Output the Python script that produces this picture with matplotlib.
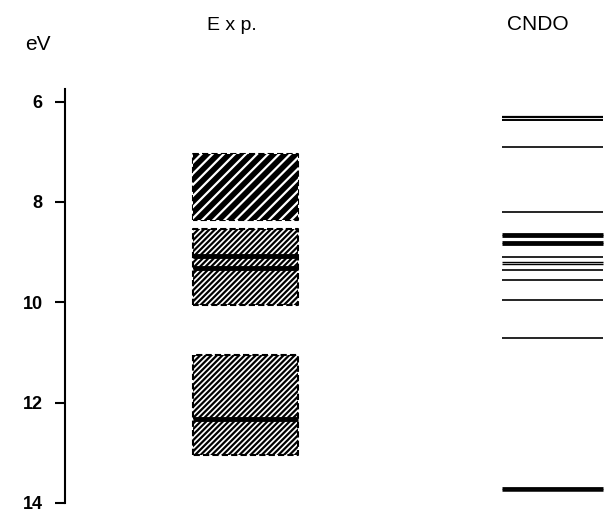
import matplotlib.pyplot as plt
import matplotlib as mpl

# experimental bands (eV): top, bottom
exp_top = [7.05, 8.53, 11.05]
exp_bottom = [8.37, 10.06, 13.05]
exp_dense = [True, False, False]
# dark lines seen inside the experimental bands
exp_lines = [9.08, 9.32, 12.32]

# CNDO levels (eV) and line widths
cndo_levels = [6.30, 6.36, 6.91, 8.20, 8.64, 8.68, 8.80, 8.83, 9.09, 9.19, 9.24,
               9.35, 9.55, 9.95, 10.72, 13.70, 13.74]
cndo_width = [1.6, 1.4, 1.2, 1.2, 2.0, 2.0, 2.0, 2.0, 1.2, 1.0, 1.0,
              1.2, 1.2, 1.2, 1.2, 2.0, 1.8]

y_ticks = [6, 8, 10, 12, 14]

mpl.rcParams['font.family'] = ['Liberation Sans', 'DejaVu Sans']
mpl.rcParams['hatch.linewidth'] = 1.6

W, H = 604, 515
fig = plt.figure(figsize=(W / 100, H / 100), dpi=100)
# axes spine at x=65px, 14 eV at y=503px, 5.75 eV at y=89px
ax = fig.add_axes([65 / W, (H - 503) / H, (W - 65) / W, (503 - 89) / H])
ax.set_xlim(0, W - 65)
ax.set_ylim(14, 5.75)

for s in ['top', 'right', 'bottom']:
    ax.spines[s].set_visible(False)
ax.spines['left'].set_linewidth(1.5)
ax.set_xticks([])
ax.set_yticks(y_ticks)
ax.set_yticklabels([str(t) for t in y_ticks], fontsize=13, fontweight='bold')
ax.tick_params(axis='y', direction='out', length=7, width=1.5, pad=9)

# experimental column
x0, x1 = 128, 233
for top, bot, dense in zip(exp_top, exp_bottom, exp_dense):
    ax.fill_between([x0, x1], top, bot, facecolor='black' if dense else 'white',
                    edgecolor='black', hatch='//////', linewidth=1.5,
                    linestyle=(0, (3, 1.5)))
    if dense:
        ax.fill_between([x0, x1], top, bot, facecolor='none', edgecolor='white',
                        hatch='///', linewidth=0)
for lv in exp_lines:
    ax.plot([x0, x1], [lv, lv], color='black', lw=3.5, solid_capstyle='butt')

# CNDO column
c0, c1 = 437, 538
for lv, lw in zip(cndo_levels, cndo_width):
    ax.plot([c0, c1], [lv, lv], color='black', lw=lw, solid_capstyle='butt')

fig.text(38 / W, 1 - 45 / H, 'eV', fontsize=15, ha='center', va='center')
fig.text(232 / W, 1 - 25 / H, 'E x p.', fontsize=14, ha='center', va='center')
fig.text(538 / W, 1 - 25 / H, 'CNDO', fontsize=15, ha='center', va='center')

fig.savefig('out.png', dpi=100)
